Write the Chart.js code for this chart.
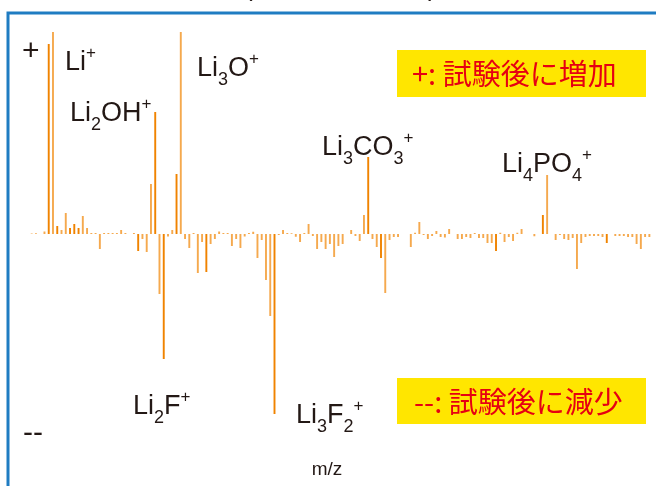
<!DOCTYPE html>
<html>
<head>
<meta charset="utf-8">
<script src="https://cdn.jsdelivr.net/npm/chart.js@4"></script>
<style>
    html, body { margin: 0; padding: 0; background: #fff; }
    #wrap { width: 656px; height: 486px; position: relative; }
</style>
</head>
<body>
<div id="wrap"><canvas id="chart" width="656" height="486"></canvas></div>
<script>
// m/z where a change was seen, and the change (+ increase, - decrease)
let peakMz = [2, 3, 5, 6, 7, 8, 9, 10, 11, 12, 13, 14, 15, 16, 17, 18, 19, 20, 21, 22, 23, 24, 26,
    27, 28, 29, 30, 31, 32, 33, 34, 35, 36, 37, 38, 39, 40, 41, 42, 43, 44, 45, 46, 47, 48, 49, 50,
    51, 52, 53, 54, 55, 56, 57, 58, 59, 60, 61, 62, 63, 64, 65, 66, 67, 68, 69, 70, 71, 72, 73, 74, 75,
    77, 78, 79, 80, 81, 82, 83, 84, 85, 86, 87, 88, 91, 92, 93, 94, 95, 96, 97, 98, 99, 100,
    102, 103, 104, 105, 106, 107, 108, 109, 110, 111, 112, 113, 114, 115, 116, 117, 120, 122, 123,
    125, 126, 127, 128, 129, 130, 131, 132, 133, 134, 135, 136, 137, 139, 140, 141, 142, 143, 144, 145, 146, 147];
let peakChange = [0.6, 0.7, 2.5, 190, 202, 8, 4, 21, 6, 10, 6, 18, 6, 1, 1, -15, 1, 1, 1, 1, 4, 1, 1,
    -17, -5, -18, 50, 122, -60, -125, -2.5, 4, 60, 202, -5, -14, 1, -39, -8, -38, -10, -5, 2.5, 1, 1, -12, -5,
    -14, -2.5, 1, 2.3, -24, -6, -46, -82, -180, -1, 4, 1, 0.7, -2.7, -8, 1, 10, -2, -15, -8, -15, -10, -23, -12, -10,
    4, -2, -7, 19, 77, -5, -13, -24, -59, -6, -3, -3, -13, 1.3, 12, -1, -5, -2, 3, -3, -3.5, 5,
    -5, -5, -3, -4, 1, -4, -4, -9, -9, -17, 1.3, -8, -3, -7, 1.3, 5, -2.3, 19, 59,
    -6, -1, -5, -6, -4, -35, -9, -3, -2, -2, -2, -3, -9, -2, -2, -2, -3, -3, -10, -15, -3, -3];
let mzMax = 147;

// bars drawn in the darker orange
let darkMz = [6, 8, 11, 12, 13, 27, 31, 33, 36, 43, 59, 81, 84, 111, 122, 137];

let mzLabels = [];
let values = [];
for (let m = 1; m <= mzMax; m++) {
    mzLabels.push(String(m));
    let k = peakMz.indexOf(m);
    values.push(k < 0 ? 0 : peakChange[k]);
}

function ionLabel(ctx, x, y, parts) {
    // parts: [text, kind] kind: n normal, b subscript, p superscript
    for (let p of parts) {
        if (p[1] == 'n') {
            ctx.font = '27px "Liberation Sans", Arial, sans-serif';
            ctx.fillText(p[0], x, y);
        } else if (p[1] == 'b') {
            ctx.font = '18px "Liberation Sans", Arial, sans-serif';
            ctx.fillText(p[0], x, y + 9);
        } else {
            ctx.font = '17px "Liberation Sans", Arial, sans-serif';
            ctx.fillText(p[0], x, y - 12);
        }
        x += ctx.measureText(p[0]).width;
    }
}

let decor = {
    id: 'decor',
    beforeDraw(chart) {
        let ctx = chart.ctx;
        ctx.save();
        ctx.fillStyle = '#fff';
        ctx.fillRect(0, 0, chart.width, chart.height);
        ctx.restore();
    },
    afterDraw(chart) {
        let ctx = chart.ctx;
        ctx.save();
        // frame
        ctx.strokeStyle = '#1f7cc2';
        ctx.lineWidth = 3;
        ctx.beginPath();
        ctx.moveTo(8, 500);
        ctx.lineTo(8, 13);
        ctx.lineTo(670, 13);
        ctx.stroke();

        // cut off title brackets
        ctx.fillStyle = '#231815';
        ctx.font = '26px "Liberation Sans", Arial, sans-serif';
        ctx.textBaseline = 'alphabetic';
        ctx.fillText('(', 244, -4);
        ctx.fillText(')', 428, -4);

        ctx.font = '30px "Liberation Sans", Arial, sans-serif';
        ctx.fillText('+', 22, 60);
        ctx.fillText('--', 23, 442);

        ionLabel(ctx, 65, 70, [['Li', 'n'], ['+', 'p']]);
        ionLabel(ctx, 70, 121, [['Li', 'n'], ['2', 'b'], ['OH', 'n'], ['+', 'p']]);
        ionLabel(ctx, 197, 76, [['Li', 'n'], ['3', 'b'], ['O', 'n'], ['+', 'p']]);
        ionLabel(ctx, 322, 155, [['Li', 'n'], ['3', 'b'], ['CO', 'n'], ['3', 'b'], ['+', 'p']]);
        ionLabel(ctx, 502, 172, [['Li', 'n'], ['4', 'b'], ['PO', 'n'], ['4', 'b'], ['+', 'p']]);
        ionLabel(ctx, 133, 414, [['Li', 'n'], ['2', 'b'], ['F', 'n'], ['+', 'p']]);
        ionLabel(ctx, 296, 423, [['Li', 'n'], ['3', 'b'], ['F', 'n'], ['2', 'b'], ['+', 'p']]);

        ctx.font = '19px "Liberation Sans", Arial, sans-serif';
        ctx.textAlign = 'center';
        ctx.fillText('m/z', 327, 475);

        // notes
        ctx.fillStyle = '#ffe600';
        ctx.fillRect(397, 50, 249, 47);
        ctx.fillRect(397, 378, 249, 46);
        ctx.fillStyle = '#e60012';
        ctx.textAlign = 'left';
        ctx.textBaseline = 'middle';
        ctx.font = '29px "Noto Sans CJK JP", sans-serif';
        ctx.fillText('+: 試験後に増加', 412, 74);
        ctx.fillText('--: 試験後に減少', 414, 402);
        ctx.restore();
    }
};

onload = () => {
    let ctx = document.getElementById('chart').getContext('2d');
    let chart = new Chart(ctx, {
        type: 'bar',
        data: {
            labels: mzLabels,
            datasets: [{
                label: 'change',
                data: values,
                backgroundColor: (c) => darkMz.includes(c.dataIndex + 1) ? '#f08300' : '#f5a94e',
                borderWidth: 0,
                barPercentage: 0.45,
                categoryPercentage: 1
            }]
        },
        options: {
            responsive: false,
            animation: false,
            layout: { padding: { left: 25.3, right: 4.5, top: 24, bottom: 62 } },
            plugins: { legend: { display: false }, tooltip: { enabled: false } },
            scales: {
                x: { display: false },
                y: { display: false, min: -190, max: 210 }
            }
        },
        plugins: [decor]
    });
};
</script>
</body>
</html>
